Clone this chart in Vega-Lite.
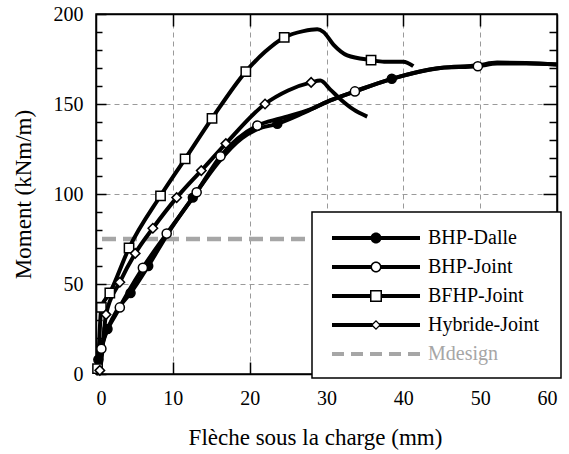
{
  "$schema": "https://vega.github.io/schema/vega-lite/v6.json",
  "width": 461,
  "height": 360,
  "autosize": {"type": "none"},
  "padding": {"left": 96, "top": 14, "right": 12, "bottom": 80},
  "background": "white",
  "config": {
    "view": {"stroke": "black", "strokeWidth": 1.5},
    "font": "Liberation Serif"
  },
  "datasets": {
    "curves": [
      {"s": "BHP-Dalle", "x": 0, "y": 0}, {"s": "BHP-Dalle", "x": 0.3, "y": 8}, {"s": "BHP-Dalle", "x": 0.8, "y": 17}, {"s": "BHP-Dalle", "x": 1.5, "y": 25}, {"s": "BHP-Dalle", "x": 2.8, "y": 36}, {"s": "BHP-Dalle", "x": 4.5, "y": 45}, {"s": "BHP-Dalle", "x": 6.8, "y": 60}, {"s": "BHP-Dalle", "x": 9.5, "y": 79}, {"s": "BHP-Dalle", "x": 12.6, "y": 98}, {"s": "BHP-Dalle", "x": 16, "y": 118}, {"s": "BHP-Dalle", "x": 19, "y": 131}, {"s": "BHP-Dalle", "x": 21, "y": 136}, {"s": "BHP-Dalle", "x": 23.6, "y": 139}, {"s": "BHP-Dalle", "x": 27, "y": 145}, {"s": "BHP-Dalle", "x": 30.5, "y": 152}, {"s": "BHP-Dalle", "x": 33.7, "y": 157}, {"s": "BHP-Dalle", "x": 38.5, "y": 164}, {"s": "BHP-Dalle", "x": 44.8, "y": 170}, {"s": "BHP-Dalle", "x": 49.7, "y": 171.5}, {"s": "BHP-Dalle", "x": 52.2, "y": 173}, {"s": "BHP-Dalle", "x": 56, "y": 172.8}, {"s": "BHP-Dalle", "x": 60, "y": 172},
      {"s": "BHP-Joint", "x": 0, "y": 0}, {"s": "BHP-Joint", "x": 0.7, "y": 14}, {"s": "BHP-Joint", "x": 3.1, "y": 37}, {"s": "BHP-Joint", "x": 6.1, "y": 59}, {"s": "BHP-Joint", "x": 9.2, "y": 78}, {"s": "BHP-Joint", "x": 13.1, "y": 101}, {"s": "BHP-Joint", "x": 16.2, "y": 121}, {"s": "BHP-Joint", "x": 21, "y": 138}, {"s": "BHP-Joint", "x": 24, "y": 142}, {"s": "BHP-Joint", "x": 27.9, "y": 147}, {"s": "BHP-Joint", "x": 30.5, "y": 152}, {"s": "BHP-Joint", "x": 33.7, "y": 157}, {"s": "BHP-Joint", "x": 38.5, "y": 164}, {"s": "BHP-Joint", "x": 44.8, "y": 170}, {"s": "BHP-Joint", "x": 49.7, "y": 171}, {"s": "BHP-Joint", "x": 52.2, "y": 172.5}, {"s": "BHP-Joint", "x": 56, "y": 172.5}, {"s": "BHP-Joint", "x": 60, "y": 172},
      {"s": "BFHP-Joint", "x": 0, "y": 0}, {"s": "BFHP-Joint", "x": 0.2, "y": 3}, {"s": "BFHP-Joint", "x": 0.7, "y": 37}, {"s": "BFHP-Joint", "x": 1.8, "y": 45}, {"s": "BFHP-Joint", "x": 4.3, "y": 70}, {"s": "BFHP-Joint", "x": 8.4, "y": 99}, {"s": "BFHP-Joint", "x": 11.6, "y": 119.5}, {"s": "BFHP-Joint", "x": 15.1, "y": 142}, {"s": "BFHP-Joint", "x": 19.5, "y": 168}, {"s": "BFHP-Joint", "x": 22, "y": 179}, {"s": "BFHP-Joint", "x": 24.5, "y": 187}, {"s": "BFHP-Joint", "x": 27, "y": 190.5}, {"s": "BFHP-Joint", "x": 28.8, "y": 191.5}, {"s": "BFHP-Joint", "x": 29.6, "y": 190}, {"s": "BFHP-Joint", "x": 30.9, "y": 183}, {"s": "BFHP-Joint", "x": 32.7, "y": 177}, {"s": "BFHP-Joint", "x": 35.8, "y": 174.4}, {"s": "BFHP-Joint", "x": 37.5, "y": 173.5}, {"s": "BFHP-Joint", "x": 40, "y": 173.5}, {"s": "BFHP-Joint", "x": 41.3, "y": 171},
      {"s": "Hybride-Joint", "x": 0, "y": 0}, {"s": "Hybride-Joint", "x": 0.5, "y": 2}, {"s": "Hybride-Joint", "x": 1.3, "y": 33}, {"s": "Hybride-Joint", "x": 3.1, "y": 51}, {"s": "Hybride-Joint", "x": 5.1, "y": 67}, {"s": "Hybride-Joint", "x": 7.4, "y": 81}, {"s": "Hybride-Joint", "x": 10.5, "y": 98}, {"s": "Hybride-Joint", "x": 13.7, "y": 113}, {"s": "Hybride-Joint", "x": 16.9, "y": 128}, {"s": "Hybride-Joint", "x": 22, "y": 150}, {"s": "Hybride-Joint", "x": 25, "y": 157.5}, {"s": "Hybride-Joint", "x": 28, "y": 162}, {"s": "Hybride-Joint", "x": 29.2, "y": 163}, {"s": "Hybride-Joint", "x": 30.5, "y": 158}, {"s": "Hybride-Joint", "x": 32, "y": 152}, {"s": "Hybride-Joint", "x": 33.5, "y": 147}, {"s": "Hybride-Joint", "x": 35.3, "y": 143}
    ],
    "markers": [
      {"s": "BHP-Dalle", "x": 0.3, "y": 8}, {"s": "BHP-Dalle", "x": 1.5, "y": 25}, {"s": "BHP-Dalle", "x": 4.5, "y": 45}, {"s": "BHP-Dalle", "x": 6.8, "y": 60}, {"s": "BHP-Dalle", "x": 12.6, "y": 98}, {"s": "BHP-Dalle", "x": 23.6, "y": 139}, {"s": "BHP-Dalle", "x": 38.5, "y": 164},
      {"s": "BHP-Joint", "x": 0.7, "y": 14}, {"s": "BHP-Joint", "x": 3.1, "y": 37}, {"s": "BHP-Joint", "x": 6.1, "y": 59}, {"s": "BHP-Joint", "x": 9.2, "y": 78}, {"s": "BHP-Joint", "x": 13.1, "y": 101}, {"s": "BHP-Joint", "x": 16.2, "y": 121}, {"s": "BHP-Joint", "x": 21, "y": 138}, {"s": "BHP-Joint", "x": 33.7, "y": 157}, {"s": "BHP-Joint", "x": 49.7, "y": 171},
      {"s": "BFHP-Joint", "x": 0.2, "y": 3}, {"s": "BFHP-Joint", "x": 0.7, "y": 37}, {"s": "BFHP-Joint", "x": 1.8, "y": 45}, {"s": "BFHP-Joint", "x": 4.3, "y": 70}, {"s": "BFHP-Joint", "x": 8.4, "y": 99}, {"s": "BFHP-Joint", "x": 11.6, "y": 119.5}, {"s": "BFHP-Joint", "x": 15.1, "y": 142}, {"s": "BFHP-Joint", "x": 19.5, "y": 168}, {"s": "BFHP-Joint", "x": 24.5, "y": 187}, {"s": "BFHP-Joint", "x": 35.8, "y": 174.4},
      {"s": "Hybride-Joint", "x": 0.5, "y": 2}, {"s": "Hybride-Joint", "x": 1.3, "y": 33}, {"s": "Hybride-Joint", "x": 3.1, "y": 51}, {"s": "Hybride-Joint", "x": 5.1, "y": 67}, {"s": "Hybride-Joint", "x": 7.4, "y": 81}, {"s": "Hybride-Joint", "x": 10.5, "y": 98}, {"s": "Hybride-Joint", "x": 13.7, "y": 113}, {"s": "Hybride-Joint", "x": 16.9, "y": 128}, {"s": "Hybride-Joint", "x": 22, "y": 150}, {"s": "Hybride-Joint", "x": 28, "y": 162}
    ]
  },
  "resolve": {"axis": {"x": "independent", "y": "independent"}},
  "layer": [
    {
      "data": {"values": [{"s": "Mdesign", "m": 75}]},
      "mark": {"type": "rule", "strokeDash": [14, 7], "strokeWidth": 4.5},
      "encoding": {
        "y": {"field": "m", "type": "quantitative", "scale": {"domain": [0, 200]}, "axis": null},
        "color": {"field": "s", "type": "nominal", "scale": {"domain": ["BHP-Dalle", "BHP-Joint", "BFHP-Joint", "Hybride-Joint", "Mdesign"], "range": ["black", "black", "black", "black", "#a6a6a6"]}}
      }
    },
    {
      "data": {"name": "curves"},
      "mark": {"type": "line", "strokeWidth": 4, "interpolate": "monotone"},
      "encoding": {
        "x": {
          "field": "x", "type": "quantitative", "scale": {"domain": [0, 60], "nice": false},
          "axis": {
            "orient": "bottom", "values": [0, 10, 20, 30, 40, 50, 60],
            "grid": true, "gridDash": [5, 4], "gridColor": "#9a9a9a", "gridWidth": 1,
            "gridOpacity": {"condition": {"test": "datum.value > 0 && datum.value < 60", "value": 1}, "value": 0},
            "domain": true, "domainColor": "black", "domainWidth": 1.5,
            "ticks": true, "tickSize": -12, "tickColor": "black", "tickWidth": 1.5,
            "labelFont": "Liberation Serif", "labelFontSize": 20, "labelColor": "black", "labelPadding": 26,
            "title": "Flèche sous la charge (mm)", "titleFont": "Liberation Serif", "titleFontSize": 23,
            "titleFontWeight": "normal", "titleColor": "black",
            "titleX": 219, "titleY": 63, "titleAlign": "center", "titleBaseline": "middle", "titleAnchor": "start"
          }
        },
        "y": {
          "field": "y", "type": "quantitative", "scale": {"domain": [0, 200], "nice": false},
          "axis": {
            "orient": "left", "values": [0, 10, 20, 30, 40, 50, 60, 70, 80, 90, 100, 110, 120, 130, 140, 150, 160, 170, 180, 190, 200],
            "labelExpr": "datum.value % 50 == 0 ? datum.label : ''",
            "grid": true, "gridDash": [5, 4], "gridColor": "#9a9a9a", "gridWidth": 1,
            "gridOpacity": {"condition": {"test": "datum.value % 50 == 0 && datum.value > 0 && datum.value < 200", "value": 1}, "value": 0},
            "domain": true, "domainColor": "black", "domainWidth": 1.5,
            "ticks": true, "tickSize": {"condition": {"test": "datum.value % 50 == 0", "value": -10}, "value": -6}, "tickColor": "black", "tickWidth": 1.5,
            "labelFont": "Liberation Serif", "labelFontSize": 20, "labelColor": "black", "labelPadding": 23,
            "title": "Moment (kNm/m)", "titleFont": "Liberation Serif", "titleFontSize": 23,
            "titleFontWeight": "normal", "titleColor": "black", "titlePadding": 18
          }
        },
        "color": {
          "field": "s", "type": "nominal",
          "scale": {"domain": ["BHP-Dalle", "BHP-Joint", "BFHP-Joint", "Hybride-Joint", "Mdesign"], "range": ["black", "black", "black", "black", "#a6a6a6"]},
          "legend": {
            "orient": "none", "legendX": 216, "legendY": 198,
            "title": " ", "titleOrient": "right", "titlePadding": 8, "titleFontSize": 20,
            "padding": 14, "fillColor": "white", "strokeColor": "black",
            "symbolSize": 576, "symbolStrokeWidth": 0, "symbolOffset": 38, "rowPadding": 7,
            "labelFont": "Liberation Serif", "labelFontSize": 20, "labelOffset": 40, "labelColor": "black", "labelLimit": 300,
            "encode": {
              "legend": {"update": {"strokeWidth": {"value": 1.5}}},
              "symbols": {
                "update": {
                  "shape": {"signal": "datum.value === 'BHP-Dalle' ? 'M-3.667,-0.167H-0.333V0.167H-3.667ZM0.333,-0.167H3.667V0.167H0.333ZM-0.458,0A0.458,0.458,0,1,1,0.458,0A0.458,0.458,0,1,1,-0.458,0Z' : datum.value === 'BHP-Joint' ? 'M-3.667,-0.167H-0.417V0.167H-3.667ZM0.417,-0.167H3.667V0.167H0.417ZM-0.458,0A0.458,0.458,0,1,1,0.458,0A0.458,0.458,0,1,1,-0.458,0ZM-0.333,0A0.333,0.333,0,1,0,0.333,0A0.333,0.333,0,1,0,-0.333,0Z' : datum.value === 'BFHP-Joint' ? 'M-3.667,-0.167H-0.433V0.167H-3.667ZM0.433,-0.167H3.667V0.167H0.433ZM-0.5,-0.5H0.5V0.5H-0.5ZM-0.375,-0.375V0.375H0.375V-0.375Z' : datum.value === 'Hybride-Joint' ? 'M-3.667,-0.167H-0.292V0.167H-3.667ZM0.292,-0.167H3.667V0.167H0.292ZM0,-0.417L0.417,0L0,0.417L-0.417,0ZM0,-0.267L-0.267,0L0,0.267L0.267,0Z' : 'M-3.667,-0.167H-2.667V0.167H-3.667ZM-2.083,-0.167H-1.083V0.167H-2.083ZM-0.5,-0.167H0.5V0.167H-0.5ZM1.083,-0.167H2.083V0.167H1.083ZM2.667,-0.167H3.667V0.167H2.667Z'"},
                  "fill": {"signal": "datum.value === 'Mdesign' ? '#a6a6a6' : 'black'"},
                  "stroke": {"value": "transparent"},
                  "strokeWidth": {"value": 0},
                  "opacity": {"value": 1}
                }
              },
              "labels": {
                "update": {"fill": {"signal": "datum.value === 'Mdesign' ? '#a6a6a6' : 'black'"}}
              }
            }
          }
        }
      }
    },
    {
      "data": {"name": "markers"},
      "mark": {"type": "point", "filled": true, "stroke": "black", "strokeWidth": 1.5, "opacity": 1},
      "encoding": {
        "x": {
          "field": "x", "type": "quantitative", "scale": {"domain": [0, 60], "nice": false},
          "axis": {"orient": "top", "values": [10, 20, 30, 40, 50], "labels": false, "grid": false, "domain": true, "domainColor": "black", "domainWidth": 1.5, "ticks": true, "tickSize": -12, "tickColor": "black", "tickWidth": 1.5, "title": null}
        },
        "y": {
          "field": "y", "type": "quantitative", "scale": {"domain": [0, 200], "nice": false},
          "axis": {"orient": "right", "values": [10, 20, 30, 40, 50, 60, 70, 80, 90, 100, 110, 120, 130, 140, 150, 160, 170, 180, 190], "labels": false, "grid": false, "domain": true, "domainColor": "black", "domainWidth": 1.5, "ticks": true, "tickSize": {"condition": {"test": "datum.value % 50 == 0", "value": -14}, "value": -8}, "tickColor": "black", "tickWidth": 1.5, "title": null}
        },
        "shape": {"field": "s", "type": "nominal", "scale": {"domain": ["BHP-Dalle", "BHP-Joint", "BFHP-Joint", "Hybride-Joint"], "range": ["circle", "circle", "square", "diamond"]}, "legend": null},
        "fill": {"field": "s", "type": "nominal", "scale": {"domain": ["BHP-Dalle", "BHP-Joint", "BFHP-Joint", "Hybride-Joint"], "range": ["black", "white", "white", "white"]}, "legend": null},
        "size": {"field": "s", "type": "nominal", "scale": {"domain": ["BHP-Dalle", "BHP-Joint", "BFHP-Joint", "Hybride-Joint"], "range": [80, 90, 130, 70]}, "legend": null}
      }
    }
  ]
}
